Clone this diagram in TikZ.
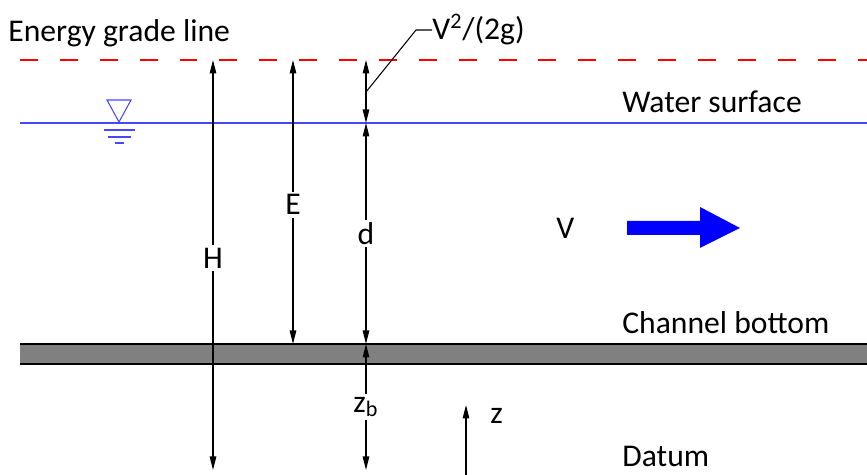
\documentclass[tikz,border=0pt]{standalone}
\usepackage{fontspec}
\setmainfont{Carlito}
\usetikzlibrary{arrows.meta}
\definecolor{energyred}{HTML}{FF0000}
\definecolor{waterblue}{HTML}{4646FF}
\definecolor{bedgray}{HTML}{808080}
\definecolor{flowblue}{HTML}{0000FF}

\begin{document}
\begin{tikzpicture}[x=0.02cm, y=-0.02cm,
    dimline/.style={{Triangle[length=0.27cm, width=0.13cm]}-{Triangle[length=0.27cm, width=0.13cm]}, line width=0.6pt},
    rotulo/.style={font=\fontsize{18}{21}\selectfont, anchor=west, inner sep=0pt},
    medida/.style={font=\fontsize{18}{21}\selectfont, fill=white, inner sep=1.5pt},
    egl/.style={draw=energyred, line width=0.6pt, dash pattern=on 10.2pt off 12.5pt},
    surface/.style={draw=waterblue, line width=0.6pt}
  ]
  \useasboundingbox (0,0) rectangle (867,475);

  % lines across the channel
  \draw[egl] (20,60) -- (867,60);
  \draw[surface] (20,123) -- (867,123);
  \fill[bedgray] (20,344) rectangle (867,364);
  \draw[line width=0.6pt] (20,344) -- (867,344) (20,364) -- (867,364);

  % water surface symbol
  \draw[surface] (107,100) -- (131,100) -- (119,122) -- cycle;
  \draw[surface] (104,130) -- (135,130) (108,137) -- (131,137) (115,143) -- (124,143);

  \node[rotulo] (egl-label) at (8,33) {Energy grade line};
  \node[rotulo] (surface-label) at (622,102) {Water surface};
  \node[rotulo] (bottom-label) at (622,323) {Channel bottom};
  \node[rotulo] (datum-label) at (622,456) {Datum};

  % dimension lines
  \coordinate (h-top) at (213,60);
  \coordinate (h-bot) at (213,470);
  \coordinate (e-top) at (293,60);
  \coordinate (e-bot) at (293,344);
  \coordinate (v-top) at (366,60);
  \coordinate (v-ws) at (366,123);
  \coordinate (v-bed) at (366,344);
  \coordinate (v-bot) at (366,470);

  \draw[dimline] (h-top) -- node[medida, pos=0.483] (h-label) {H} (h-bot);
  \draw[dimline] (e-top) -- node[medida, pos=0.51] (e-label) {E} (e-bot);
  \draw[dimline] (v-top) -- (v-ws);
  \draw[dimline] (v-ws) -- node[medida, pos=0.5] (d-label) {d} (v-bed);
  \draw[dimline] (v-bed) -- node[medida, pos=0.5] (zb-label) {z\textsubscript{b}} (v-bot);

  % velocity head leader
  \coordinate (v2-foot) at (366,92);
  \coordinate (v2-knee) at (416,30);
  \node[rotulo] (v2-label) at (432,30) {V\textsuperscript{2}/(2g)};
  \draw[line width=0.6pt] (v2-foot) -- (v2-knee) -- (v2-label.west);

  % elevation axis
  \coordinate (z-foot) at (466,475);
  \coordinate (z-tip) at (466,405);
  \draw[line width=0.6pt, -{Triangle[length=0.27cm, width=0.13cm]}] (z-foot) -- (z-tip);
  \node[rotulo] (z-label) at (490,416) {z};

  % flow velocity
  \node[rotulo] (v-label) at (556,228) {V};
  \fill[flowblue] (627,221) -- (700,221) -- (700,207) -- (740,228) -- (700,248)
    -- (700,235) -- (627,235) -- cycle;
\end{tikzpicture}
\end{document}
